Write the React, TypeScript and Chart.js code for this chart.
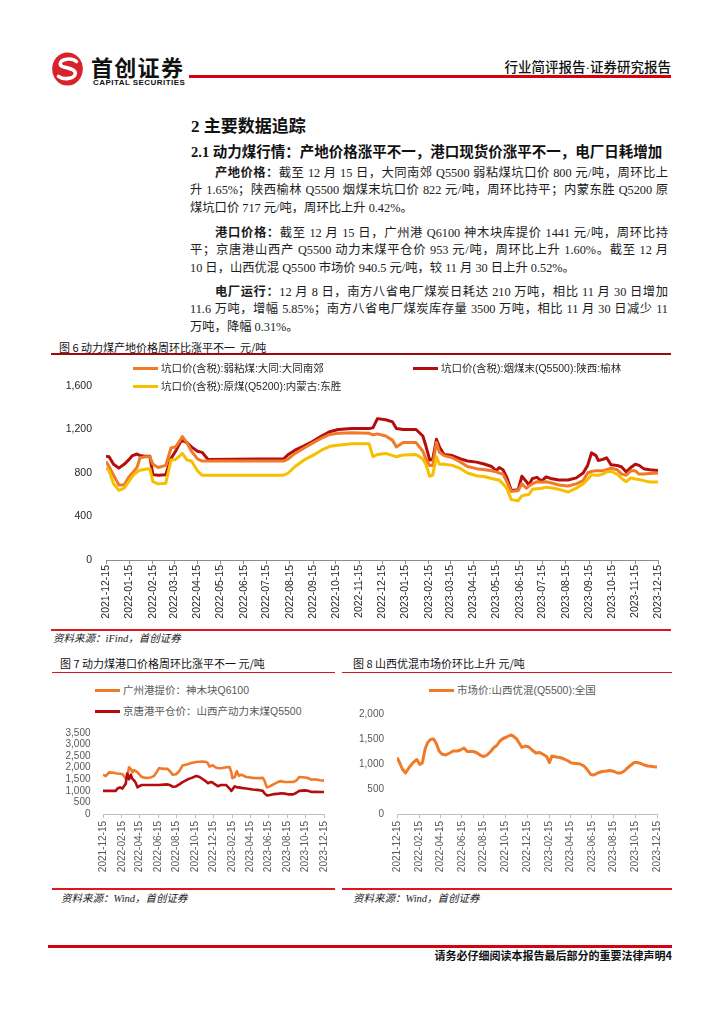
import React, { useEffect, useRef } from 'react';
import { Chart, registerables } from 'chart.js';

Chart.register(...registerables);

// ---------- data ----------
const startDate = '2021-12-15';

const ch6TickLabels = [
  '2021-12-15', '2022-01-15', '2022-02-15', '2022-03-15', '2022-04-15', '2022-05-15', '2022-06-15',
  '2022-07-15', '2022-08-15', '2022-09-15', '2022-10-15', '2022-11-15', '2022-12-15', '2023-01-15',
  '2023-02-15', '2023-03-15', '2023-04-15', '2023-05-15', '2023-06-15', '2023-07-15', '2023-08-15',
  '2023-09-15', '2023-10-15', '2023-11-15', '2023-12-15',
];
const ch78TickLabels = [
  '2021-12-15', '2022-02-15', '2022-04-15', '2022-06-15', '2022-08-15', '2022-10-15', '2022-12-15',
  '2023-02-15', '2023-04-15', '2023-06-15', '2023-08-15', '2023-10-15', '2023-12-15',
];

const ch6Dates = [
  '2021-12-15', '2021-12-19', '2021-12-25', '2022-01-01', '2022-01-08', '2022-01-14', '2022-01-19', '2022-01-25', '2022-01-29', '2022-02-05',
  '2022-02-11', '2022-02-15', '2022-02-22', '2022-03-04', '2022-03-11', '2022-03-17', '2022-03-23', '2022-03-26', '2022-04-01', '2022-04-07',
  '2022-04-15', '2022-04-21', '2022-04-29',
  '2022-08-07', '2022-08-13', '2022-08-22', '2022-09-03', '2022-09-14', '2022-09-26', '2022-10-07', '2022-10-18', '2022-11-05', '2022-11-28',
  '2022-12-03', '2022-12-09', '2022-12-20', '2022-12-29', '2023-01-03', '2023-01-12', '2023-01-29',
  '2023-02-07', '2023-02-11', '2023-02-16', '2023-02-20', '2023-02-25', '2023-03-01', '2023-03-07', '2023-03-18', '2023-03-29', '2023-04-07',
  '2023-04-19', '2023-04-30', '2023-05-09', '2023-05-15', '2023-05-19', '2023-05-24', '2023-05-29', '2023-06-04', '2023-06-13', '2023-06-18',
  '2023-06-24', '2023-06-27', '2023-07-02', '2023-07-08', '2023-07-14', '2023-07-20', '2023-07-26', '2023-08-06', '2023-08-18', '2023-08-29',
  '2023-09-07', '2023-09-13', '2023-09-18', '2023-09-24', '2023-09-27', '2023-10-03', '2023-10-08', '2023-10-14', '2023-10-22', '2023-10-28',
  '2023-11-03', '2023-11-09', '2023-11-15', '2023-11-20', '2023-11-26', '2023-12-04', '2023-12-15',
];
// 坑口价(含税):烟煤末(Q5500):陕西:榆林
const ch6Yulin = [
  955, 950, 880, 845, 880, 920, 960, 975, 960, 955, 955, 785, 780, 785, 935, 1000, 1080, 1100, 1080, 1040, 1000, 990, 925,
  930, 970, 1010, 1050, 1090, 1140, 1180, 1200, 1210, 1210,
  1215, 1300, 1290, 1270, 1210, 1200, 1200,
  1140, 1050, 920, 925, 1110, 1040, 970, 960, 930, 910,
  900, 880, 860, 820, 850, 830, 760, 640, 645, 770,
  720, 690, 750, 760, 725, 765, 750, 735, 735, 755,
  800, 870, 985, 960, 915, 925, 940, 875, 870, 855,
  810, 850, 880, 870, 840, 830, 822,
];
// 坑口价(含税):弱粘煤:大同:大同南郊
const ch6Datong = [
  905, 860, 780, 690, 690, 760, 800, 850, 940, 950, 950, 880, 850, 870, 1030, 1040, 1100, 1135, 1080, 1000, 930, 910, 910,
  910, 930, 980, 1030, 1075, 1120, 1155, 1165, 1170, 1165,
  1150, 1160, 1140, 1100, 1040, 1080, 1080,
  1000, 930, 870, 870, 1080, 990, 960, 940, 900, 860,
  840, 830, 820, 810, 800, 790, 720, 630, 640, 700,
  660, 680, 700, 720, 715, 720, 710, 690, 680, 700,
  730, 800, 815, 820, 820, 820, 830, 845, 830, 790,
  780, 820, 820, 790, 790, 795, 800,
];
// 坑口价(含税):原煤(Q5200):内蒙古:东胜
const ch6Dongsheng = [
  850, 820, 700, 640, 660, 720, 770, 810, 825, 835, 840, 720, 700, 705, 920, 925, 960, 980, 920, 910, 820, 780, 780,
  780, 800, 860, 920, 960, 1010, 1045, 1055, 1068, 1068,
  950, 970, 980, 960, 950, 965, 970,
  930, 880, 770, 780, 950, 880, 880, 870, 840, 800,
  775, 765, 750, 740, 735, 700, 660, 555, 545, 590,
  600, 600, 650, 655, 660, 670, 665, 650, 625, 660,
  700, 740, 785, 780, 780, 790, 810, 815, 790, 750,
  720, 755, 745, 740, 730, 718, 717,
];

const ch7Dates = [
  '2021-12-15', '2021-12-24', '2022-01-04', '2022-01-20', '2022-01-26', '2022-02-01', '2022-02-09', '2022-02-17', '2022-02-22', '2022-02-28',
  '2022-03-05', '2022-03-11', '2022-03-17', '2022-03-22', '2022-03-28', '2022-04-02', '2022-04-08', '2022-04-13', '2022-04-22', '2022-05-05',
  '2022-05-22', '2022-06-02', '2022-06-10', '2022-06-18', '2022-07-05', '2022-07-16', '2022-07-24', '2022-08-02', '2022-08-13', '2022-08-24',
  '2022-09-04', '2022-09-21', '2022-10-02', '2022-10-19', '2022-10-30', '2022-11-10', '2022-11-21', '2022-11-26', '2022-12-02', '2022-12-07',
  '2022-12-13', '2022-12-18', '2022-12-24', '2022-12-29', '2023-01-09', '2023-01-26', '2023-02-06', '2023-02-12', '2023-02-15', '2023-02-23',
  '2023-03-02', '2023-03-09', '2023-03-17', '2023-04-02', '2023-04-24', '2023-05-16', '2023-05-27', '2023-06-01', '2023-06-05', '2023-06-10',
  '2023-06-20', '2023-07-04', '2023-07-19', '2023-07-27', '2023-08-07', '2023-08-18', '2023-09-04', '2023-09-15', '2023-09-24', '2023-10-13',
  '2023-10-24', '2023-11-04', '2023-11-15', '2023-12-02', '2023-12-15',
];
// 广州港提价：神木块Q6100
const ch7Guangzhou = [
  1700, 1640, 1800, 1780, 1760, 1750, 1740, 1720, 1650, 1530,
  1600, 2020, 1950, 1800, 1900, 1850, 1800, 1720, 1600, 1560,
  1580, 1650, 1800, 1980, 1950, 1950, 1850, 1700, 1720, 1850,
  2100, 2150, 2200, 2250, 2260, 2270, 2250, 2200, 2050, 2080,
  2100, 2050, 2000, 1990, 1980, 2020, 2030, 1800, 1550, 1600,
  1850, 1650, 1700, 1600, 1560, 1550, 1560, 1450, 1300, 1150,
  1200, 1300, 1400, 1420, 1380, 1380, 1380, 1450, 1600, 1580,
  1550, 1480, 1500, 1460, 1441,
];
// 京唐港平仓价：山西产动力末煤Q5500
const ch7Jingtang = [
  1000, 1000, 1000, 1000, 1000, 1100, 1150, 1100, 1200, 1300,
  1750, 1500, 1700, 1520, 1450, 1350, 1150, 1200, 1250, 1250,
  1250, 1250, 1250, 1250, 1270, 1280, 1250, 1180, 1190, 1280,
  1380, 1500, 1550, 1640, 1600, 1500, 1400, 1330, 1360, 1380,
  1350, 1300, 1250, 1200, 1250, 1250, 1100, 1000, 1050, 1200,
  1150, 1150, 1130, 1100, 1060, 1030, 1000, 900, 850, 800,
  820, 860, 880, 900, 880, 850, 850, 920, 1000, 1020,
  1000, 950, 960, 950, 953,
];

const ch8Dates = [
  '2021-12-15', '2021-12-22', '2021-12-30', '2022-01-08', '2022-01-20', '2022-01-31', '2022-02-09', '2022-02-17', '2022-02-24', '2022-03-04',
  '2022-03-11', '2022-03-19', '2022-03-28', '2022-04-05', '2022-04-12', '2022-04-20', '2022-05-01', '2022-05-12', '2022-05-22', '2022-06-02',
  '2022-06-11', '2022-06-21', '2022-06-30', '2022-07-17', '2022-07-26', '2022-08-07', '2022-08-16', '2022-08-25', '2022-09-04', '2022-09-13',
  '2022-09-21', '2022-09-30', '2022-10-09', '2022-10-19', '2022-10-30', '2022-11-06', '2022-11-16', '2022-11-23', '2022-12-01', '2022-12-10',
  '2022-12-20', '2022-12-29', '2023-01-09', '2023-01-20', '2023-01-30', '2023-02-08', '2023-02-16', '2023-02-23', '2023-03-07', '2023-03-18',
  '2023-03-29', '2023-04-07', '2023-04-19', '2023-05-02', '2023-05-13', '2023-05-24', '2023-06-03', '2023-06-12', '2023-06-21', '2023-07-01',
  '2023-07-14', '2023-07-27', '2023-08-05', '2023-08-17', '2023-08-26', '2023-09-04', '2023-09-14', '2023-09-23', '2023-10-03', '2023-10-12',
  '2023-10-21', '2023-10-31', '2023-11-09', '2023-11-19', '2023-11-28', '2023-12-05', '2023-12-15',
];
// 市场价:山西优混(Q5500):全国
const ch8Shanxi = [
  1130, 1030, 900, 820, 950, 1040, 1090, 990, 1020, 1300,
  1430, 1490, 1500, 1400, 1260, 1200, 1180, 1220, 1260, 1260,
  1280, 1320, 1250, 1250, 1230, 1170, 1150, 1180, 1250, 1330,
  1370, 1460, 1510, 1540, 1580, 1560, 1500, 1420, 1330, 1360,
  1340, 1280, 1220, 1230, 1190, 1150, 1030, 1160, 1140, 1130,
  1100, 1070, 1020, 1010, 1000, 960, 880, 790, 780, 820,
  850, 860, 870, 850, 820, 820, 860, 920, 980, 1030,
  1030, 1010, 980, 960, 955, 945, 940,
];

// ---------- helpers ----------
const toUTC = (s: string) => {
  const [y, m, d] = s.split('-').map(Number);
  return Date.UTC(y, m - 1, d);
};
const dayOf = (s: string) => Math.round((toUTC(s) - toUTC(startDate)) / 86400000);

const ORANGE = '#F07A28';
const DARKRED = '#B50D0D';
const YELLOW = '#F6BF00';
const CHART_FONT = '"Liberation Sans", Arial, "Noto Sans CJK SC", sans-serif';
const CJK = '"Noto Sans CJK SC", sans-serif';
const BODY = '"Liberation Serif", "Noto Sans CJK SC", serif';

type Series = { dates: string[]; values: number[]; color: string; width: number };
type Opts = {
  series: Series[];
  tickLabels: string[];
  yMax: number;
  yStep: number;
  yW: number;
  xH: number;
  pad: { top: number; right: number; bottom: number; left: number };
  fontSize: number;
  labelColor: string;
  axisColor: string;
  yPad: number;
  xPad: number;
};

function makeConfig(o: Opts): any {
  const tickDays = o.tickLabels.map(dayOf);
  const labelMap: Record<number, string> = {};
  o.tickLabels.forEach((l, i) => (labelMap[tickDays[i]] = l));
  const maxDay = tickDays[tickDays.length - 1];
  return {
    type: 'line',
    data: {
      datasets: o.series.map((s) => ({
        data: s.dates.map((d, i) => ({ x: dayOf(d), y: s.values[i] })),
        borderColor: s.color,
        backgroundColor: s.color,
        borderWidth: s.width,
        pointRadius: 0,
        tension: 0,
        fill: false,
        borderJoinStyle: 'round',
      })),
    },
    options: {
      animation: false,
      responsive: false,
      maintainAspectRatio: false,
      layout: { padding: o.pad },
      plugins: { legend: { display: false }, tooltip: { enabled: false }, title: { display: false } },
      scales: {
        x: {
          type: 'linear',
          min: 0,
          max: maxDay,
          afterBuildTicks: (scale: any) => {
            scale.ticks = tickDays.map((v) => ({ value: v }));
          },
          afterFit: (scale: any) => {
            scale.height = o.xH;
            scale.paddingLeft = 0;
            scale.paddingRight = 0;
          },
          grid: { display: true, drawOnChartArea: false, drawTicks: true, tickLength: 4, color: o.axisColor },
          border: { display: true, color: o.axisColor, width: 1 },
          ticks: {
            autoSkip: false,
            minRotation: 90,
            maxRotation: 90,
            padding: o.xPad,
            color: o.labelColor,
            font: { size: o.fontSize, family: CHART_FONT },
            callback: (v: number) => labelMap[v] ?? '',
          },
        },
        y: {
          min: 0,
          max: o.yMax,
          afterFit: (scale: any) => {
            scale.width = o.yW;
            scale.paddingTop = 0;
            scale.paddingBottom = 0;
          },
          grid: { display: false, drawTicks: false },
          border: { display: false },
          ticks: {
            autoSkip: false,
            stepSize: o.yStep,
            padding: o.yPad,
            color: o.labelColor,
            font: { size: o.fontSize + (o.fontSize > 10.5 ? 0.5 : 0), family: CHART_FONT },
            callback: (v: number) => Number(v).toLocaleString('en-US'),
          },
        },
      },
    },
  };
}

function LineChart(props: { left: number; top: number; width: number; height: number; opts: Opts }) {
  const ref = useRef<HTMLCanvasElement>(null);
  useEffect(() => {
    const chart = new Chart(ref.current as HTMLCanvasElement, makeConfig(props.opts));
    return () => chart.destroy();
  }, []);
  return (
    <canvas
      ref={ref}
      width={props.width}
      height={props.height}
      style={{ position: 'absolute', left: props.left, top: props.top, width: props.width, height: props.height }}
    />
  );
}

// text helpers
function T(p: { x: number; y: number; size: number; children: any; style?: any }) {
  const lh = Math.round(p.size * 1.45);
  return (
    <div
      style={{
        position: 'absolute',
        left: p.x,
        top: p.y - lh / 2,
        fontSize: p.size,
        lineHeight: lh + 'px',
        whiteSpace: 'nowrap',
        ...p.style,
      }}
    >
      {p.children}
    </div>
  );
}

function J(p: { x: number; y: number; w: number; children: any; last?: boolean }) {
  const size = 12.3;
  const lh = 18;
  return (
    <div
      style={{
        position: 'absolute',
        left: p.x,
        top: p.y - lh / 2,
        width: p.w,
        fontSize: size,
        lineHeight: lh + 'px',
        fontFamily: BODY,
        color: '#1c1c1c',
        textAlign: p.last ? 'left' : 'justify',
        textAlignLast: p.last ? 'left' : 'justify',
      } as any}
    >
      {p.children}
    </div>
  );
}

function HLine(p: { x1: number; x2: number; y: number; h: number; color: string }) {
  return (
    <div style={{ position: 'absolute', left: p.x1, top: p.y - p.h / 2, width: p.x2 - p.x1, height: p.h, background: p.color }} />
  );
}

function LegendItem(p: { x: number; y: number; color: string; text: string; size: number; textColor: string; lineW: number }) {
  return (
    <>
      <div style={{ position: 'absolute', left: p.x, top: p.y - 1.5, width: p.lineW, height: 3, background: p.color }} />
      <T x={p.x + p.lineW + 3} y={p.y} size={p.size} style={{ fontFamily: CHART_FONT, color: p.textColor }}>
        {p.text}
      </T>
    </>
  );
}

const B = (s: string) => <b style={{ fontFamily: CJK, fontWeight: 700 }}>{s}</b>;

export default function App() {
  return (
    <div
      style={{
        position: 'absolute',
        left: 0,
        top: 0,
        width: 724,
        height: 1024,
        background: '#fff',
        overflow: 'hidden',
        fontFamily: CJK,
        color: '#1a1a1a',
      }}
    >
      {/* ---------- header ---------- */}
      <svg style={{ position: 'absolute', left: 52, top: 52, width: 31, height: 34 }} viewBox="0 0 31 34">
        <ellipse cx="15.5" cy="17" rx="15.3" ry="16.6" fill="#D8222C" />
        <path
          d="M24.5 9.5 C 20 5.5, 8.5 6.5, 8.3 11.8 C 8 16.5, 23.5 15.2, 23.3 21.3 C 23 27, 11.5 28.2, 6.5 24.3"
          fill="none"
          stroke="#fff"
          strokeWidth="3.6"
          strokeLinecap="round"
        />
      </svg>
      <T x={91} y={66} size={22} style={{ fontWeight: 700, letterSpacing: 1.3, color: '#111' }}>
        首创证券
      </T>
      <T x={93} y={83} size={8} style={{ fontFamily: CHART_FONT, fontWeight: 700, letterSpacing: 0.45, color: '#111' }}>
        CAPITAL SECURITIES
      </T>
      <HLine x1={189} x2={671} y={76.5} h={2.6} color="#D7000F" />
      <div
        style={{
          position: 'absolute',
          right: 724 - 671,
          top: 56,
          fontSize: 13.5,
          lineHeight: '20px',
          whiteSpace: 'nowrap',
          color: '#111',
          fontWeight: 500,
        }}
      >
        行业简评报告<span style={{ fontFamily: '"Liberation Serif", serif' }}>·</span>证券研究报告
      </div>

      {/* ---------- headings ---------- */}
      <T x={191} y={126} size={17} style={{ fontFamily: BODY, fontWeight: 700, color: '#111' }}>
        2 主要数据追踪
      </T>
      <T x={191} y={152} size={14.5} style={{ fontFamily: BODY, fontWeight: 700, color: '#111' }}>
        2.1 动力煤行情：产地价格涨平不一，港口现货价涨平不一，电厂日耗增加
      </T>

      {/* ---------- paragraphs ---------- */}
      <J x={215} y={172} w={453}>
        {B('产地价格：')}截至 12 月 15 日，大同南郊 Q5500 弱粘煤坑口价 800 元/吨，周环比上
      </J>
      <J x={190} y={190} w={478}>
        升 1.65%；陕西榆林 Q5500 烟煤末坑口价 822 元/吨，周环比持平；内蒙东胜 Q5200 原
      </J>
      <J x={190} y={208} w={478} last>
        煤坑口价 717 元/吨，周环比上升 0.42%。
      </J>

      <J x={215} y={232} w={453}>
        {B('港口价格：')}截至 12 月 15 日，广州港 Q6100 神木块库提价 1441 元/吨，周环比持
      </J>
      <J x={190} y={250} w={478}>
        平；京唐港山西产 Q5500 动力末煤平仓价 953 元/吨，周环比上升 1.60%。截至 12 月
      </J>
      <J x={190} y={268} w={478} last>
        10 日，山西优混 Q5500 市场价 940.5 元/吨，较 11 月 30 日上升 0.52%。
      </J>

      <J x={215} y={291} w={453}>
        {B('电厂运行：')}12 月 8 日，南方八省电厂煤炭日耗达 210 万吨，相比 11 月 30 日增加
      </J>
      <J x={190} y={309} w={478}>
        11.6 万吨，增幅 5.85%；南方八省电厂煤炭库存量 3500 万吨，相比 11 月 30 日减少 11
      </J>
      <J x={190} y={327} w={478} last>
        万吨，降幅 0.31%。
      </J>

      {/* ---------- figure 6 ---------- */}
      <T x={59} y={347} size={11} style={{ color: '#111' }}>
        图 6 动力煤产地价格周环比涨平不一&nbsp;&nbsp;元/吨
      </T>
      <HLine x1={51} x2={671} y={354} h={1.5} color="#9E0A0A" />
      <LineChart
        left={48}
        top={376}
        width={624}
        height={254}
        opts={{
          series: [
            { dates: ch6Dates, values: ch6Dongsheng, color: YELLOW, width: 3 },
            { dates: ch6Dates, values: ch6Datong, color: ORANGE, width: 3 },
            { dates: ch6Dates, values: ch6Yulin, color: DARKRED, width: 3 },
          ],
          tickLabels: ch6TickLabels,
          yMax: 1600,
          yStep: 400,
          yW: 58,
          xH: 70,
          pad: { top: 10, right: 14, bottom: 0, left: 0 },
          fontSize: 10.5,
          labelColor: '#262626',
          axisColor: '#8c8c8c',
          yPad: 14,
          xPad: 1,
        }}
      />
      <LegendItem x={133} y={368} color={ORANGE} text="坑口价(含税):弱粘煤:大同:大同南郊" size={10.5} textColor="#262626" lineW={25} />
      <LegendItem x={413} y={368} color={DARKRED} text="坑口价(含税):烟煤末(Q5500):陕西:榆林" size={10.5} textColor="#262626" lineW={25} />
      <LegendItem x={133} y={386} color={YELLOW} text="坑口价(含税):原煤(Q5200):内蒙古:东胜" size={10.5} textColor="#262626" lineW={25} />
      <HLine x1={51} x2={671} y={630} h={2} color="#E0161E" />
      <T x={53} y={638} size={10.5} style={{ fontStyle: 'italic', fontFamily: BODY, color: '#222' }}>
        资料来源：iFind，首创证券
      </T>

      {/* ---------- figure 7 ---------- */}
      <T x={60} y={662.5} size={11} style={{ color: '#111' }}>
        图 7 动力煤港口价格周环比涨平不一 元/吨
      </T>
      <HLine x1={52} x2={335} y={672.5} h={1} color="#D9141C" />
      <LineChart
        left={48}
        top={720}
        width={287}
        height={160}
        opts={{
          series: [
            { dates: ch7Dates, values: ch7Jingtang, color: DARKRED, width: 2.6 },
            { dates: ch7Dates, values: ch7Guangzhou, color: ORANGE, width: 2.6 },
          ],
          tickLabels: ch78TickLabels,
          yMax: 3500,
          yStep: 500,
          yW: 55,
          xH: 66,
          pad: { top: 13, right: 11, bottom: 0, left: 0 },
          fontSize: 10,
          labelColor: '#595959',
          axisColor: '#bfbfbf',
          yPad: 12.5,
          xPad: 3,
        }}
      />
      <LegendItem x={95} y={690.5} color={ORANGE} text="广州港提价：神木块Q6100" size={10.5} textColor="#595959" lineW={25} />
      <LegendItem x={95} y={711.5} color={DARKRED} text="京唐港平仓价：山西产动力末煤Q5500" size={10.5} textColor="#595959" lineW={25} />
      <HLine x1={52} x2={335} y={889} h={1.6} color="#E0161E" />
      <T x={61} y={898} size={10.5} style={{ fontStyle: 'italic', fontFamily: BODY, color: '#222' }}>
        资料来源：Wind，首创证券
      </T>

      {/* ---------- figure 8 ---------- */}
      <T x={353} y={662.5} size={11} style={{ color: '#111' }}>
        图 8 山西优混市场价环比上升 元/吨
      </T>
      <HLine x1={342} x2={672} y={672.5} h={1} color="#D9141C" />
      <LineChart
        left={342}
        top={700}
        width={330}
        height={180}
        opts={{
          series: [{ dates: ch8Dates, values: ch8Shanxi, color: ORANGE, width: 3 }],
          tickLabels: ch78TickLabels,
          yMax: 2000,
          yStep: 500,
          yW: 55,
          xH: 66,
          pad: { top: 14, right: 15, bottom: 0, left: 0 },
          fontSize: 10,
          labelColor: '#595959',
          axisColor: '#bfbfbf',
          yPad: 13,
          xPad: 3,
        }}
      />
      <LegendItem x={429} y={690} color={ORANGE} text="市场价:山西优混(Q5500):全国" size={10.5} textColor="#595959" lineW={25} />
      <HLine x1={342} x2={672} y={889} h={1.6} color="#E0161E" />
      <T x={353} y={898} size={10.5} style={{ fontStyle: 'italic', fontFamily: BODY, color: '#222' }}>
        资料来源：Wind，首创证券
      </T>

      {/* ---------- footer ---------- */}
      <HLine x1={48} x2={672} y={946.5} h={2.2} color="#D7000F" />
      <div
        style={{
          position: 'absolute',
          right: 724 - 672,
          top: 947,
          fontSize: 11,
          lineHeight: '16px',
          whiteSpace: 'nowrap',
          fontWeight: 700,
          color: '#111',
        }}
      >
        请务必仔细阅读本报告最后部分的重要法律声明4
      </div>
    </div>
  );
}
